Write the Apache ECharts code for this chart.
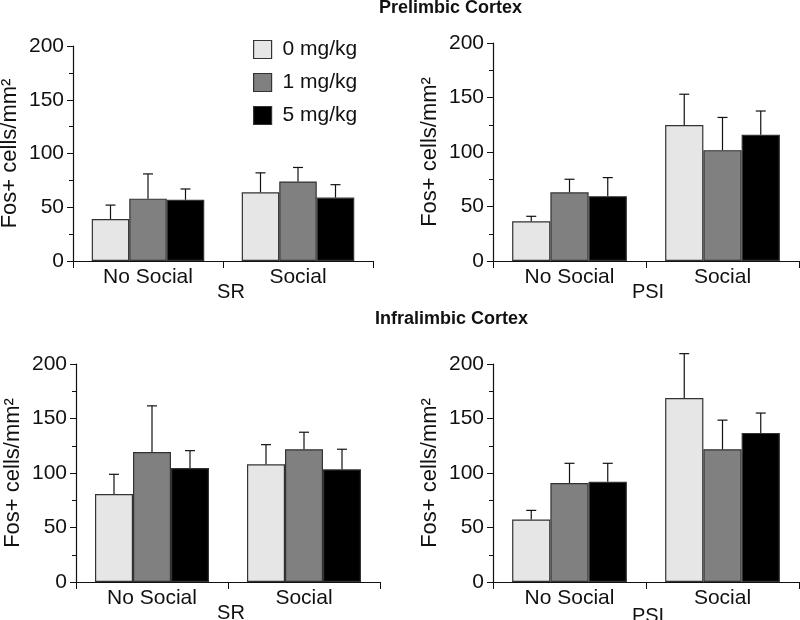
<!DOCTYPE html>
<html>
<head>
<meta charset="utf-8">
<script src="https://cdn.jsdelivr.net/npm/echarts@6/dist/echarts.min.js"></script>
<style>
  html, body { margin: 0; padding: 0; background: #fff; }
  #chart { width: 800px; height: 620px; }
</style>
</head>
<body>
<div id="chart"></div>
<script>
const categories = ['No Social', 'Social']
const doses = ['0 mg/kg', '1 mg/kg', '5 mg/kg']
const doseColors = ['#e6e6e6', '#808080', '#000000']

// per dose: [No Social, Social]; errTops = mean + SEM
const plSrMeans = [[39, 64], [58, 74], [57, 59]]
const plSrErrTops = [[52, 82], [81, 87], [67, 71]]
const plPsiMeans = [[36.5, 124.7], [63, 101.7], [59.5, 115.8]]
const plPsiErrTops = [[41, 153], [75, 131.7], [76.5, 137.6]]
const ilSrMeans = [[80.7, 108], [119.3, 121.8], [104.6, 103.4]]
const ilSrErrTops = [[98.8, 126], [161.6, 137.4], [120.5, 121.8]]
const ilPsiMeans = [[57.4, 168.7], [90.8, 121.8], [92, 136.8]]
const ilPsiErrTops = [[65.7, 209.5], [108.9, 148.5], [108.9, 155]]

const panels = [
  { name: 'SR', means: plSrMeans, tops: plSrErrTops, grid: { left: 73, top: 46, width: 300, height: 215 }, namePad: 16, nameGap: 21 },
  { name: 'PSI', means: plPsiMeans, tops: plPsiErrTops, grid: { left: 493, top: 43, width: 306, height: 218 }, namePad: 4, nameGap: 21 },
  { name: 'SR', means: ilSrMeans, tops: ilSrErrTops, grid: { left: 76, top: 364, width: 304, height: 218 }, namePad: 6, nameGap: 21 },
  { name: 'PSI', means: ilPsiMeans, tops: ilPsiErrTops, grid: { left: 493, top: 364, width: 306, height: 218 }, namePad: 4, nameGap: 24 },
]

const font = "'Liberation Sans', Arial, sans-serif"
const ink = '#111'

function renderErr(params, api) {
  const cat = api.value(0)
  const dose = api.value(1)
  const center = api.coord([cat, 0])
  const band = api.size([1, 0])[0]
  const x = center[0] + (dose - 1) * band * 0.25
  const yMean = api.coord([cat, api.value(2)])[1]
  const yTop = api.coord([cat, api.value(3)])[1]
  const style = { stroke: ink, lineWidth: 1.2 }
  return {
    type: 'group',
    children: [
      { type: 'line', shape: { x1: x, y1: yMean, x2: x, y2: yTop }, style },
      { type: 'line', shape: { x1: x - 5, y1: yTop, x2: x + 5, y2: yTop }, style },
    ],
  }
}

const grids = []
const xAxes = []
const yAxes = []
const series = []

panels.forEach((p, k) => {
  grids.push(Object.assign({ outerBoundsMode: 'none', containLabel: false }, p.grid))
  xAxes.push({
    type: 'category',
    gridIndex: k,
    data: categories,
    name: p.name,
    nameLocation: 'middle',
    nameGap: p.nameGap,
    nameMoveOverlap: false,
    nameTextStyle: { fontFamily: font, fontSize: 20, color: ink, padding: [0, 0, 0, p.namePad] },
    axisLine: { lineStyle: { color: ink, width: 1.2 } },
    axisTick: { show: true, length: 7, lineStyle: { color: ink } },
    axisLabel: { fontFamily: font, fontSize: 21, color: ink, margin: 6 },
  })
  yAxes.push({
    type: 'value',
    gridIndex: k,
    min: 0,
    max: 200,
    interval: 50,
    name: 'Fos+ cells/mm²',
    nameLocation: 'middle',
    nameGap: 52,
    nameTextStyle: { fontFamily: font, fontSize: 22, color: ink },
    axisLine: { show: true, lineStyle: { color: ink, width: 1.2 } },
    axisTick: { show: true, length: 6, lineStyle: { color: ink } },
    minorTick: { show: true, splitNumber: 2, length: 4, lineStyle: { color: ink } },
    splitLine: { show: false },
    axisLabel: { fontFamily: font, fontSize: 21, color: ink, margin: 9 },
  })
  doses.forEach((d, i) => {
    series.push({
      type: 'bar',
      name: d,
      xAxisIndex: k,
      yAxisIndex: k,
      data: p.means[i],
      barCategoryGap: '25%',
      barGap: '0%',
      itemStyle: { color: doseColors[i], borderColor: '#333', borderWidth: 1.2 },
      emphasis: { disabled: true },
    })
  })
  const errData = []
  doses.forEach((d, i) => {
    categories.forEach((c, j) => {
      errData.push([j, i, p.means[i][j], p.tops[i][j]])
    })
  })
  series.push({
    type: 'custom',
    xAxisIndex: k,
    yAxisIndex: k,
    renderItem: renderErr,
    data: errData,
    encode: { x: 0, y: 3 },
    clip: false,
    z: 5,
  })
})

const chart = echarts.init(document.getElementById('chart'))
chart.setOption({
  animation: false,
  backgroundColor: '#fff',
  title: [
    { text: 'Prelimbic Cortex', left: 379, top: -1, padding: 0,
      textStyle: { fontFamily: font, fontSize: 18, fontWeight: 'bold', color: ink } },
    { text: 'Infralimbic Cortex', left: 375, top: 310, padding: 0,
      textStyle: { fontFamily: font, fontSize: 18, fontWeight: 'bold', color: ink } },
  ],
  legend: {
    data: doses,
    orient: 'vertical',
    left: 253,
    top: 39,
    padding: 0,
    itemWidth: 18,
    itemHeight: 18,
    itemGap: 12,
    icon: 'rect',
    selectedMode: false,
    itemStyle: { borderColor: '#333', borderWidth: 1.2 },
    textStyle: { fontFamily: font, fontSize: 21, color: ink, lineHeight: 20, padding: [0, 0, 0, 6] },
  },
  grid: grids,
  xAxis: xAxes,
  yAxis: yAxes,
  series: series,
})
</script>
</body>
</html>
